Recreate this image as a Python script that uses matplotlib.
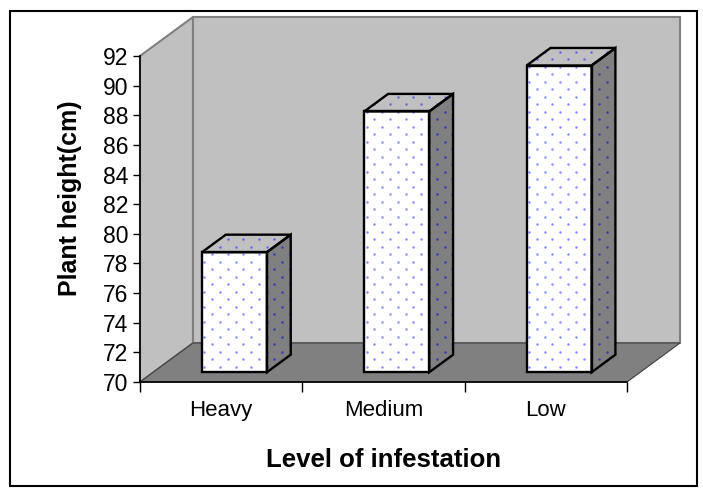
import numpy as np
import matplotlib
matplotlib.use("Agg")
import matplotlib.pyplot as plt
from matplotlib.patches import Polygon, Rectangle

plt.rcParams['font.family'] = ['Liberation Sans', 'DejaVu Sans']

# data
categories = ['Heavy', 'Medium', 'Low']
heights = [78.1, 87.6, 90.7]
yticks = list(range(70, 93, 2))
ymin, ymax = 70, 92

# fake 3d: depth offset of the floor in data units
DX, DY = 0.3265, 2.632
D0, D1 = 0.25, 0.70          # depth fraction occupied by the columns
BW = 0.4                     # column width (category units)


def proj(x, v, d):
    return (x + d * DX, v + d * DY)


fig = plt.figure(figsize=(7.03, 4.92), dpi=100)
ax = fig.add_axes([140 / 703, 110 / 492, 487 / 703, 326 / 492])
ax.set_xlim(0, 3)
ax.set_ylim(ymin, ymax)
ax.patch.set_visible(False)

ncat = len(categories)
# walls and floor
left_wall = [proj(0, ymin, 0), proj(0, ymax, 0), proj(0, ymax, 1), proj(0, ymin, 1)]
back_wall = [proj(0, ymin, 1), proj(ncat, ymin, 1), proj(ncat, ymax, 1), proj(0, ymax, 1)]
floor = [proj(0, ymin, 0), proj(ncat, ymin, 0), proj(ncat, ymin, 1), proj(0, ymin, 1)]
ax.add_patch(Polygon(left_wall, closed=True, fc='#c0c0c0', ec='#808080', lw=1.5, clip_on=False, zorder=0))
ax.add_patch(Polygon(back_wall, closed=True, fc='#c0c0c0', ec='#808080', lw=1.5, clip_on=False, zorder=0))
ax.add_patch(Polygon(floor, closed=True, fc='#808080', ec='#404040', lw=0.8, clip_on=False, zorder=1))

# dotted texture grid (screen aligned), in data units
sx = 15.6 / (487 / 3)
sy = 7.5 / (326 / 22)

for i, v in enumerate(heights):
    x0, x1 = i + 0.5 - BW / 2, i + 0.5 + BW / 2
    front = [proj(x0, ymin, D0), proj(x1, ymin, D0), proj(x1, v, D0), proj(x0, v, D0)]
    side = [proj(x1, ymin, D0), proj(x1, ymin, D1), proj(x1, v, D1), proj(x1, v, D0)]
    top = [proj(x0, v, D0), proj(x1, v, D0), proj(x1, v, D1), proj(x0, v, D1)]
    faces = [(front, 'white', '#8c8cff'), (side, '#808080', '#3c3caa'), (top, '#c0c0c0', '#6a6ad8')]

    px, py = [], []
    rows = np.arange(ymin, ymax + DY, sy)
    for k, yy in enumerate(rows):
        xs = np.arange(x0 + (sx / 2 if k % 2 else 0), x1 + DX, sx)
        px.extend(xs)
        py.extend([yy] * len(xs))

    for pts, fc, dc in faces:
        ax.add_patch(Polygon(pts, closed=True, fc=fc, ec='none', clip_on=False, zorder=3))
        clip = Polygon(pts, closed=True, transform=ax.transData, fc='none', ec='none')
        sc = ax.scatter(px, py, s=3.2, c=dc, linewidths=0, zorder=4, clip_on=True)
        sc.set_clip_path(clip)
        ax.add_patch(Polygon(pts, closed=True, fc='none', ec='black', lw=1.7, clip_on=False,
                             zorder=5, joinstyle='miter'))

# axes styling
for s in ['top', 'right']:
    ax.spines[s].set_visible(False)
ax.spines['left'].set_linewidth(1.2)
ax.spines['bottom'].set_linewidth(1.2)
ax.spines['left'].set_zorder(2)
ax.spines['bottom'].set_zorder(2)

ax.set_yticks(yticks)
ax.set_yticklabels([str(t) for t in yticks], fontsize=16.5)
ax.tick_params(axis='y', direction='out', length=5, width=1, pad=3.5)

ax.set_xticks(range(ncat + 1))
ax.set_xticklabels([])
ax.set_xticks([i + 0.5 for i in range(ncat)], minor=True)
ax.set_xticklabels(categories, minor=True, fontsize=16)
ax.tick_params(axis='x', which='major', direction='out', length=7, width=1)
ax.tick_params(axis='x', which='minor', length=0, pad=13)

ax.text(0.5, -0.261, 'Level of infestation', transform=ax.transAxes, ha='center',
        va='baseline', fontsize=18.5, fontweight='bold')
ax.text(-0.144, 0.565, 'Plant height(cm)', transform=ax.transAxes, ha='center',
        va='center', rotation=90, fontsize=18, fontweight='bold')

# chart border
fig.patches.append(Rectangle((10 / 703, 6 / 492), 687 / 703, 475 / 492, transform=fig.transFigure,
                             fill=False, ec='black', lw=1.5))

fig.savefig('out.png', dpi=100)
